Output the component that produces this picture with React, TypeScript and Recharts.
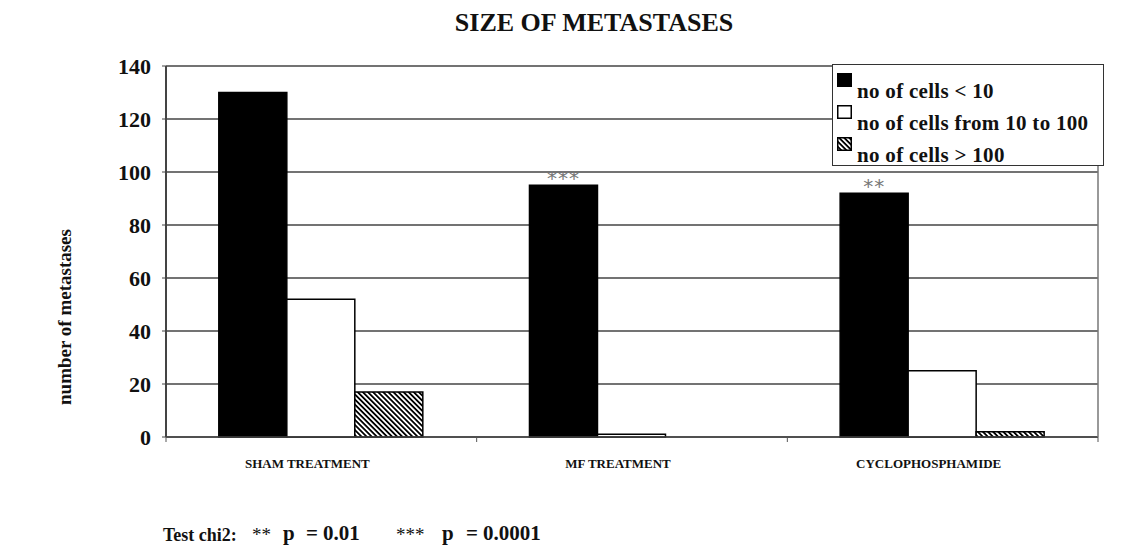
import { Bar, BarChart, CartesianGrid, LabelList, Legend, XAxis, YAxis } from "recharts";

const CATEGORIES = ["SHAM TREATMENT", "MF TREATMENT", "CYCLOPHOSPHAMIDE"];
const CELLS_LT_10 = [130, 95, 92];
const CELLS_10_TO_100 = [52, 1, 25];
const CELLS_GT_100 = [17, 0, 2];
const SIGNIFICANCE = ["", "***", "**"];
const Y_TICKS = [0, 20, 40, 60, 80, 100, 120, 140];

const SERIES = [
  { key: "lt10", name: "no of cells < 10", fill: "#000" },
  { key: "mid", name: "no of cells from 10 to 100", fill: "#fff" },
  { key: "gt100", name: "no of cells > 100", fill: "url(#hatch)" },
];

const data = CATEGORIES.map((name, i) => ({
  name,
  lt10: CELLS_LT_10[i],
  mid: CELLS_10_TO_100[i],
  gt100: CELLS_GT_100[i],
  sig: SIGNIFICANCE[i],
}));

const WIDTH = 1143;
const HEIGHT = 554;
const MARGIN = { top: 66, right: 44, bottom: 87, left: 106 };
const Y_AXIS_W = 60;
const PLOT_W = WIDTH - MARGIN.left - MARGIN.right - Y_AXIS_W - 1;
const SERIF = "'Liberation Serif', 'Times New Roman', serif";

function CategoryTick(props: any) {
  const { x, y, payload, index } = props;
  const band = PLOT_W / CATEGORIES.length;
  return (
    <g>
      {index === 0 && <line x1={x - band / 2} x2={x - band / 2} y1={y} y2={y + 5} stroke="#555" />}
      <line x1={x + band / 2} x2={x + band / 2} y1={y} y2={y + 5} stroke="#555" />
      <text x={x - 14} y={y + 31} textAnchor="middle" fontFamily={SERIF} fontWeight="bold" fontSize={13} fill="#111">
        {payload.value}
      </text>
    </g>
  );
}

function Swatch({ fill }: { fill: string }) {
  return (
    <svg width={15} height={14} style={{ display: "block" }}>
      <defs>
        <pattern id="hatchSwatch" width="3.6" height="3.6" patternUnits="userSpaceOnUse" patternTransform="rotate(-45)">
          <rect width="3.6" height="3.6" fill="#fff" />
          <line x1="0.9" y1="0" x2="0.9" y2="3.6" stroke="#000" strokeWidth="1.8" />
        </pattern>
      </defs>
      <rect
        x={0.75}
        y={0.75}
        width={13.5}
        height={12.5}
        fill={fill === "url(#hatch)" ? "url(#hatchSwatch)" : fill}
        stroke="#000"
        strokeWidth={1.5}
      />
    </svg>
  );
}

function LegendBox() {
  return (
    <div style={{ position: "relative", width: "100%", height: "100%" }}>
      {SERIES.map((s, i) => (
        <div key={s.key}>
          <div style={{ position: "absolute", left: 4, top: 8 + i * 32 }}>
            <Swatch fill={s.fill} />
          </div>
          <div
            style={{
              position: "absolute",
              left: 24,
              top: 16 + i * 32,
              fontFamily: SERIF,
              fontWeight: "bold",
              fontSize: 21,
              lineHeight: "21px",
              letterSpacing: 0.3,
              whiteSpace: "nowrap",
              color: "#111",
            }}
          >
            {s.name}
          </div>
        </div>
      ))}
    </div>
  );
}

const footPiece = (left: number, size: number, weight: string = "bold") => ({
  position: "absolute" as const,
  left,
  bottom: 0,
  fontSize: size,
  fontWeight: weight,
  lineHeight: 1,
});

export default function App() {
  return (
    <div style={{ position: "absolute", left: 0, top: 0, width: WIDTH, height: HEIGHT, background: "#fff" }}>
      <div
        style={{
          position: "absolute",
          left: 394,
          top: 10,
          width: 400,
          textAlign: "center",
          fontFamily: SERIF,
          fontWeight: "bold",
          fontSize: 26,
          lineHeight: "26px",
          color: "#111",
          zIndex: 2,
        }}
      >
        SIZE OF METASTASES
      </div>
      <div
        style={{
          position: "absolute",
          left: 65 - 110,
          top: 317 - 10,
          width: 220,
          height: 20,
          textAlign: "center",
          fontFamily: SERIF,
          fontWeight: "bold",
          fontSize: 19,
          lineHeight: "20px",
          transform: "rotate(-90deg)",
          color: "#111",
          zIndex: 2,
        }}
      >
        number of metastases
      </div>
      <BarChart width={WIDTH} height={HEIGHT} data={data} margin={MARGIN} barGap={0} barCategoryGap="17%">
        <defs>
          <pattern id="hatch" width="3.6" height="3.6" patternUnits="userSpaceOnUse" patternTransform="rotate(-45)">
            <rect width="3.6" height="3.6" fill="#fff" />
            <line x1="0.9" y1="0" x2="0.9" y2="3.6" stroke="#000" strokeWidth="1.8" />
          </pattern>
        </defs>
        <CartesianGrid vertical={false} stroke="#444" strokeWidth={1.5} />
        <XAxis
          dataKey="name"
          height={30}
          tickLine={false}
          tickSize={0}
          tickMargin={0}
          axisLine={{ stroke: "#444", strokeWidth: 1.5 }}
          tick={<CategoryTick />}
          interval={0}
        />
        <YAxis
          width={Y_AXIS_W}
          domain={[0, 140]}
          ticks={Y_TICKS}
          interval={0}
          tickSize={4}
          tickMargin={11}
          axisLine={{ stroke: "#444", strokeWidth: 2 }}
          tickLine={{ stroke: "#444" }}
          tick={{ fontFamily: SERIF, fontWeight: "bold", fontSize: 22, fill: "#111" }}
        />
        <YAxis
          yAxisId="frame"
          orientation="right"
          width={1}
          domain={[0, 140]}
          tick={false}
          tickLine={false}
          axisLine={{ stroke: "#777", strokeWidth: 1.5 }}
        />
        <Legend
          layout="horizontal"
          verticalAlign="middle"
          align="center"
          content={<LegendBox />}
          wrapperStyle={{
            left: 832,
            top: 64,
            width: 272,
            height: 102,
            border: "1.5px solid #333",
            background: "#fff",
            boxSizing: "border-box",
          }}
        />
        {SERIES.map((s) => (
          <Bar
            key={s.key}
            dataKey={s.key}
            name={s.name}
            fill={s.fill}
            stroke="#000"
            strokeWidth={1.5}
            isAnimationActive={false}
          >
            {s.key === "lt10" && (
              <LabelList
                dataKey="sig"
                position="top"
                offset={0}
                fill="#777"
                fontFamily="'DejaVu Sans', sans-serif"
                fontSize={20}
                letterSpacing={1}
              />
            )}
          </Bar>
        ))}
      </BarChart>
      <div
        style={{
          position: "absolute",
          left: 0,
          top: 520,
          width: WIDTH,
          height: 24,
          fontFamily: SERIF,
          color: "#111",
          whiteSpace: "pre",
        }}
      >
        <span style={footPiece(163, 18)}>Test chi2:</span>
        <span style={footPiece(252, 19, "normal")}>**</span>
        <span style={footPiece(283, 21)}>p</span>
        <span style={footPiece(306, 21)}>=</span>
        <span style={footPiece(323, 21)}>0.01</span>
        <span style={footPiece(396, 19, "normal")}>***</span>
        <span style={footPiece(442, 21)}>p</span>
        <span style={footPiece(466, 21)}>=</span>
        <span style={footPiece(483, 21)}>0.0001</span>
      </div>
    </div>
  );
}
